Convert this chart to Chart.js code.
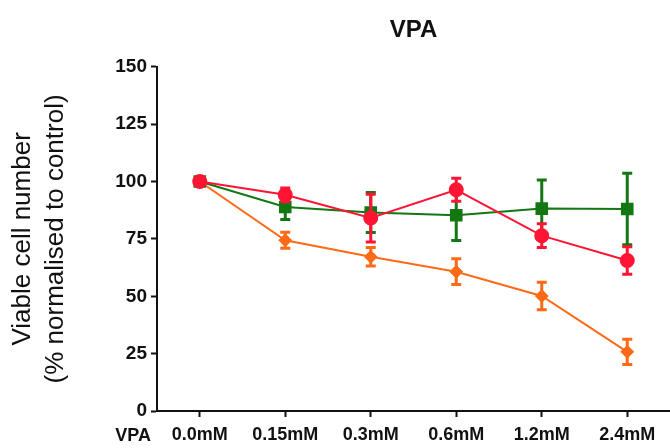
<!DOCTYPE html>
<html>
<head>
<meta charset="utf-8">
<script src="https://cdn.jsdelivr.net/npm/chart.js@4"></script>
<style>
  html, body { margin: 0; padding: 0; background: #fff; }
  #wrap { width: 670px; height: 448px; position: relative; }
</style>
</head>
<body>
<div id="wrap"><canvas id="vpa-chart"></canvas></div>
<script>
const doses = ["0.0mM", "0.15mM", "0.3mM", "0.6mM", "1.2mM", "2.4mM"];
const y_ticks = [0, 25, 50, 75, 100, 125, 150];

// mean values (% of control)
const red_mean = [100, 94.2, 84.1, 96.4, 76.4, 65.6];
const red_err = [1, 3, 10.4, 5, 5.2, 6];
const green_mean = [100, 88.9, 86.5, 85.3, 88.2, 88];
const green_err = [1, 5.5, 8.7, 11, 12.5, 15.6];
const orange_mean = [100, 74.4, 67.2, 60.7, 50.1, 25.8];
const orange_err = [1, 3.5, 4, 5.6, 6, 5.5];

const RED = "#ff1434";
const GREEN = "#137713";
const ORANGE = "#ff6a16";
const FONT = "'Liberation Sans', Arial, sans-serif";

// draws the SEM bars for a dataset right after it is drawn
const errorBars = {
    id: "errorBars",
    afterDatasetDraw(chart, args) {
        const ds = chart.data.datasets[args.index];
        if (!ds.errors) return;
        const meta = chart.getDatasetMeta(args.index);
        const ys = chart.scales.y;
        const ctx = chart.ctx;
        ctx.save();
        ctx.strokeStyle = ds.borderColor;
        ctx.lineWidth = 3;
        meta.data.forEach((pt, i) => {
            const top = ys.getPixelForValue(ds.data[i] + ds.errors[i]);
            const bot = ys.getPixelForValue(ds.data[i] - ds.errors[i]);
            ctx.beginPath();
            ctx.moveTo(pt.x, top);
            ctx.lineTo(pt.x, bot);
            ctx.moveTo(pt.x - 5, top);
            ctx.lineTo(pt.x + 5, top);
            ctx.moveTo(pt.x - 5, bot);
            ctx.lineTo(pt.x + 5, bot);
            ctx.stroke();
        });
        ctx.restore();
    }
};

// "VPA" row label to the left of the dose labels
const rowLabel = {
    id: "rowLabel",
    afterDraw(chart) {
        const ctx = chart.ctx;
        const area = chart.chartArea;
        ctx.save();
        ctx.font = "bold 18px " + FONT;
        ctx.fillStyle = "#111";
        ctx.textAlign = "right";
        ctx.textBaseline = "middle";
        ctx.fillText("VPA", area.left - 6, area.bottom + 25);
        ctx.restore();
    }
};

const mkSet = (label, data, errors, color, style, radius) => ({
    label: label,
    data: data,
    errors: errors,
    borderColor: color,
    backgroundColor: color,
    pointBackgroundColor: color,
    pointBorderColor: color,
    pointStyle: style,
    pointRadius: radius,
    pointHoverRadius: radius,
    borderWidth: 2,
    tension: 0,
    fill: false,
});

new Chart(document.getElementById("vpa-chart"), {
    type: "line",
    data: {
        labels: doses,
        datasets: [
            mkSet("red", red_mean, red_err, RED, "circle", 6.5),
            mkSet("green", green_mean, green_err, GREEN, "rect", 7.5),
            mkSet("orange", orange_mean, orange_err, ORANGE, "rectRot", 5.5),
        ],
    },
    options: {
        animation: false,
        responsive: true,
        maintainAspectRatio: false,
        layout: { autoPadding: false, padding: { left: 0, top: 0, bottom: 0, right: -3 } },
        plugins: {
            legend: { display: false },
            tooltip: { enabled: false },
            title: {
                display: true,
                text: "VPA",
                fullSize: false,
                color: "#111",
                font: { family: FONT, size: 24, weight: "bold" },
                padding: { top: 16, bottom: 22 },
            },
        },
        scales: {
            x: {
                type: "category",
                offset: true,
                border: { display: true, color: "#111", width: 2 },
                grid: {
                    offset: false,
                    drawOnChartArea: false,
                    drawTicks: true,
                    tickLength: 6,
                    tickColor: "#111",
                    tickWidth: 2,
                },
                ticks: {
                    color: "#111",
                    padding: 7,
                    maxRotation: 0,
                    autoSkip: false,
                    font: { family: FONT, size: 18, weight: "bold" },
                },
                afterFit: (scale) => {
                    scale.height = 37;
                    scale.paddingLeft = 0;
                    scale.paddingRight = 0;
                },
            },
            y: {
                min: 0,
                max: 150,
                afterBuildTicks: (scale) => {
                    scale.ticks = y_ticks.map((v) => ({ value: v }));
                },
                border: { display: true, color: "#111", width: 2 },
                grid: {
                    drawOnChartArea: false,
                    drawTicks: true,
                    tickLength: 6,
                    tickColor: "#111",
                    tickWidth: 2,
                },
                ticks: {
                    color: "#111",
                    padding: 4,
                    font: { family: FONT, size: 19, weight: "bold" },
                },
                title: {
                    display: true,
                    text: ["Viable cell number", "(% normalised to control)"],
                    color: "#111",
                    font: { family: FONT, size: 26, lineHeight: 1.25 },
                    padding: { top: 7, bottom: 0 },
                },
                afterFit: (scale) => { scale.width = 157; },
            },
        },
    },
    plugins: [errorBars, rowLabel],
});
</script>
</body>
</html>
